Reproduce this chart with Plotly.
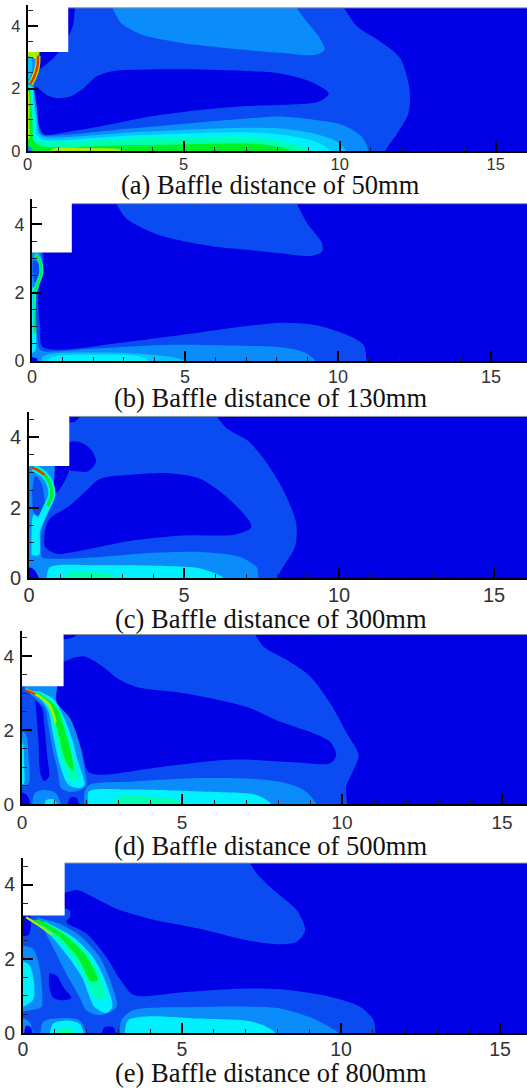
import plotly.graph_objects as go

# ---- Contour level colours ----
DARK = "#0000E6"
MID = "#0A4CF2"
LIGHT = "#0A8CFA"
SKY = "#06C4FF"
CYAN = "#00F0FF"
MINT = "#00FFB0"
GREEN = "#00F028"
LIME = "#A8F000"
YELLOW = "#F0E400"
RED = "#E83000"

# ---- Axis ticks and captions ----
x_tick_step = 5
y_tick_step = 2
captions = ["(a) Baffle distance of 50mm", "(b) Baffle distance of 130mm", "(c) Baffle distance of 300mm",
            "(d) Baffle distance of 500mm", "(e) Baffle distance of 800mm"]
tick_font_sizes = [16.5, 18, 20, 19, 19.5]
x_label_standoffs = [-3, -2, -2, 0, -2]

# ---- Panel (a): contour regions (x, y in axis units) ----
a_mid = [(-.5,-.4),(-.5,4.63),(10.05,4.63),(10.13,4.57),(10.56,3.98),(11.3,3.5),(11.94,2.96),(12.24,1.95),(12.2,1.2),(11.84,.56),(11.46,0),(11.4,-.4)]
a_wedge = [(1.2,3.3),(1.3,4.63),(1.49,4.63),(1.49,4.3),(1.44,3.98),(1.2,3.45),(.82,2.97),(.29,2.59),(.3,3.2)]
a_core = [(.24,2.06),(.61,1.79),(.93,1.69),(1.36,1.74),(1.78,2.0),(2.2,2.38),(2.75,2.56),(3.92,2.61),(5.52,2.61),(7.03,2.56),(8.1,2.48),(9.06,2.22),(9.65,1.84),(9.33,1.58),(8.1,1.47),(7.03,1.44),(5.52,1.31),(3.92,1.1),(2.3,.78),(1.04,.57),(.55,.51),(.37,.78),(.18,1.63),(.24,2.06)]
a_patch = [(2.68,4.63),(2.72,4.57),(3.0,4.09),(3.7,3.71),(4.99,3.45),(7.03,3.23),(8.1,3.14),(9.17,3.07),(9.51,3.23),(9.33,3.66),(8.9,4.19),(8.63,4.57),(8.6,4.63)]
a_band = [(10.95,-.4),(10.93,0),(10.7,.46),(10.1,.83),(9.17,1.0),(8.1,1.1),(7.03,1.04),(3.39,.73),(.5,.51),(.4,.6),(.28,1.5),(.2,2.1),(.33,2.6),(.35,3.3),(-.1,3.3),(-.1,-.4)]
a_sky = [(10.25,-.4),(10.2,0),(9.91,.3),(9.17,.56),(8.1,.72),(7.03,.74),(3.39,.6),(.6,.44),(.37,.55),(.3,1.0),(.22,1.6),(.17,2.05),(-.1,2.1),(-.1,-.4)]
a_cyan = [(9.75,-.4),(9.7,0),(9.2,.3),(8.3,.5),(7.03,.6),(3.39,.5),(.5,.36),(.3,.5),(.26,1.0),(.19,1.6),(.14,2.05),(-.1,2.1),(-.1,-.4)]
a_mint = [(9.1,-.4),(9.06,0),(8.63,.19),(7.56,.4),(7.03,.45),(3.39,.41),(.5,.3),(.23,.4),(.2,.8),(.13,1.6),(.1,2.05),(-.1,2.1),(-.1,-.4)]
a_green = [(8.45,-.4),(8.42,0),(7.67,.19),(7.03,.24),(3.39,.19),(.4,.17),(.18,.35),(.16,.8),(.1,1.6),(.05,2.05),(-.1,2.1),(-.1,-.4)]
a_lime = [(.6,-.2),(.8,.06),(2,.09),(3.0,.04),(3.3,-.2)]
a_wall_lime = [(-.1,2.0),(.03,1.9),(.05,.9),(.05,.4),(-.1,.3)]
a_corner = [(-.1,-.2),(-.1,.14),(.1,.12),(.2,-.2)]
a_top_jet = [(-.1,3.3),(.34,3.3),(.31,2.95),(.1,3.0),(-.1,3.05)]
a_gap_cyan = [(-.1,3.0),(.1,3.0),(.15,2.7),(.05,2.3),(-.1,2.3)]
a_arc_x = [.33,.31,.2,.08]
a_arc_y = [3.05,2.7,2.35,2.15]

# ---- Panel (b) ----
b_patch = [(2.72,4.63),(2.76,4.59),(3.08,4.17),(4.17,3.68),(6.02,3.34),(7.03,3.25),(8.12,3.15),(9.1,3.07),(9.48,3.2),(9.48,3.44),(8.99,4.03),(8.66,4.59),(8.63,4.63)]
b_mid = [(10.95,-.4),(10.93,0),(10.84,.46),(10.3,.76),(9.2,1.06),(8.12,1.12),(7.03,1.02),(3.3,.58),(.36,.4),(.27,1.0),(.2,1.8),(.25,2.3),(.34,2.6),(.32,3.3),(-.1,3.3),(-.1,-.4)]
b_light = [(9.3,-.4),(9.26,0),(8.88,.26),(8.12,.4),(7.03,.44),(4.39,.47),(2.2,.37),(.4,.28),(.25,.35),(.15,1.0),(.15,2.1),(.25,2.6),(.25,3.3),(-.1,3.3),(-.1,-.4)]
b_sky = [(5.02,-.3),(4.99,0),(3.85,.19),(2.2,.25),(.36,.13),(.3,-.3)]
b_cyan = [(3.9,-.3),(3.7,.08),(2.2,.18),(.58,.08),(.5,-.3)]
b_wall = [(-.1,2.2),(.1,2.1),(.1,1.2),(.14,.6),(.1,.3),(-.1,.2)]
b_hole = [(.05,2.95),(.2,2.9),(.22,2.5),(.1,2.3),(.03,2.5),(.05,2.95)]
b_corner = [(-.1,-.2),(-.1,.08),(.15,.08),(.2,-.2)]
b_arc_x = [.08,.22,.3,.27,.1]
b_arc_y = [2.0,2.35,2.55,2.9,3.12]
b_wall_x = [.06,.06,.08]
b_wall_y = [2.0,1.3,.8]

# ---- Panel (c) ----
c_mid = [(-.5,-.4),(-.5,4.63),(5.98,4.63),(6.06,4.58),(6.38,4.25),(7.03,3.92),(7.56,3.4),(8.2,2.5),(8.62,1.55),(8.58,.89),(8.2,.32),(8.0,0),(7.95,-.4)]
c_lens = [(1.2,4.63),(1.2,4.45),(1.45,4.43),(1.65,4.59),(1.7,4.63)]
c_blob = [(1.2,3.1),(1.2,3.82),(1.65,3.86),(2.02,3.63),(2.16,3.3),(1.91,3.03),(1.48,3.04),(1.2,3.1)]
c_wedge = [(.75,3.3),(1.35,3.3),(1.15,2.75),(.9,2.42),(.78,2.35)]
c_core = [(.52,1.35),(.68,1.69),(1.32,2.06),(1.86,2.49),(2.29,2.82),(3.37,2.94),(4.44,2.98),(5.52,2.82),(6.38,2.3),(7.13,1.59),(7.16,1.42),(6.6,1.23),(4.98,1.21),(3.37,1.07),(1.75,.79),(.89,.69),(.52,.88),(.52,1.35)]
c_band = [(7.42,-.4),(7.4,0),(7.34,.31),(6.8,.6),(5.52,.74),(3.9,.71),(2.29,.6),(.68,.55),(.42,.6),(.4,1.3),(.72,2.2),(.8,2.7),(.78,3.3),(-.1,3.3),(-.1,-.4)]
c_bottom = [(6.3,-.3),(6.27,0),(5.52,.27),(4.44,.34),(2.29,.36),(.68,.31),(.57,.03),(.55,-.3)]
c_bottom_mint = [(2.8,-.3),(2.72,.08),(1.97,.17),(1.2,.12),(1.1,-.3)]
c_corner = [(-.1,-.2),(-.1,.3),(.15,.25),(.42,-.2)]
c_wall_cyan = [(.08,.65),(.33,.65),(.35,1.3),(.42,1.6),(.15,1.8),(.08,1.2)]
c_loop = [(.12,1.9),(.3,1.75),(.5,2.0),(.4,2.7),(.2,2.9),(.1,2.4)]
c_halo_x = [.14,.46,.68,.73,.52,.3]
c_halo_y = [3.13,2.96,2.68,2.35,1.92,1.5]
c_green_x = [.14,.46,.68,.73,.6]
c_green_y = [3.13,2.96,2.68,2.35,2.05]
c_red_x = [.1,.3,.5]
c_red_y = [3.13,3.06,2.93]

# ---- Panel (d) ----
d_mid = [(-.5,-.4),(-.5,4.63),(7.2,4.63),(7.29,4.57),(7.55,4.25),(8.28,3.89),(9.01,3.44),(9.63,2.72),(10.15,1.91),(10.52,1.32),(10.36,.92),(10.13,.47),(10.16,0),(10.16,-.4)]
d_core = [(1.2,3.3),(1.2,3.77),(1.91,3.99),(2.43,3.77),(3.05,3.36),(3.68,3.14),(5.03,3.0),(7.03,2.62),(8.07,2.22),(9.11,1.91),(9.63,1.68),(9.82,1.32),(9.63,1.1),(8.59,1.12),(6.6,1.2),(4.51,1.02),(2.43,.79),(2.06,.88),(1.85,1.51),(1.54,2.05),(1.13,2.46),(1.07,3.3)]
d_lens = [(1.2,4.63),(1.2,4.44),(1.4,4.46),(1.65,4.53),(1.75,4.63)]
d_stripe = [(.42,2.8),(.62,2.6),(.7,2.1),(.8,1.2),(.85,.75),(.7,.62),(.58,.8),(.52,1.6)]
d_band = [(9.22,-.4),(9.2,0),(8.8,.38),(8.07,.6),(7.03,.69),(5.55,.7),(3.47,.61),(2.11,.52),(1.95,.3),(2.0,-.4)]
d_jet_light = [(.08,3.14),(.34,2.91),(.71,2.59),(.82,2.14),(.95,1.51),(1.12,.88),(1.22,.43),(1.54,.32),(2.0,.48),(1.95,.97),(1.78,1.69),(1.5,2.32),(1.07,2.77),(1.07,3.3),(.1,3.3)]
d_jet_cyan = [(.19,3.05),(.55,2.85),(.81,2.55),(.97,1.87),(1.18,1.06),(1.45,.52),(1.8,.43),(1.95,.52),(1.75,1.15),(1.55,1.8),(1.25,2.45),(1.0,2.82),(.55,3.05)]
d_jet_mint = [(.19,3.05),(.55,2.9),(.86,2.55),(1.05,1.87),(1.3,1.06),(1.6,.6),(1.75,.7),(1.6,1.24),(1.45,1.8),(1.2,2.45),(.97,2.76),(.55,3.0)]
d_jet_green = [(.24,3.05),(.6,2.92),(.92,2.6),(1.13,1.9),(1.37,1.15),(1.6,.9),(1.55,1.35),(1.37,1.9),(1.12,2.55),(.86,2.79),(.55,3.0)]
d_jet_x = [.1,.5,.85,1.05]
d_jet_y = [3.1,2.93,2.68,2.2]
d_red_x = [.1,.42]
d_red_y = [3.08,2.97]
d_wall_light = [(-.1,2.0),(.12,1.9),(.2,1.3),(.2,.55),(-.1,.45)]
d_wall_cyan = [(-.1,1.9),(.04,1.6),(.07,1.0),(.06,.55),(-.1,.5)]
d_dome = [(.3,-.3),(.4,.3),(.7,.38),(1.05,.3),(1.32,-.3)]
d_dome_cyan = [(.7,-.2),(.75,.1),(1.0,.12),(1.2,-.2)]
d_dark_left = [(-.1,-.2),(-.1,.3),(.15,.25),(.3,-.2)]
d_dark_right = [(1.4,-.3),(1.5,.17),(1.7,.17),(1.85,-.3)]
d_bottom = [(2.03,-.3),(2.06,0),(2.09,.34),(3.47,.39),(5.55,.34),(7.03,.29),(7.34,.24),(7.79,0),(7.85,-.3)]
d_bottom_mint = [(2.8,-.3),(2.95,.16),(3.99,.2),(4.93,.07),(5.0,-.3)]

# ---- Panel (e) ----
e_mid = [(-.5,-.4),(-.5,3.3),(1.47,3.3),(1.47,3.13),(1.36,2.99),(1.99,2.68),(2.62,2.05),(3.04,1.46),(3.41,1.06),(3.67,.99),(5.03,1.1),(7.04,1.2),(8.09,1.18),(9.66,.98),(10.6,.71),(11.02,.35),(11.08,0),(11.08,-.4)]
e_top = [(1.2,4.63),(1.2,3.8),(1.73,3.85),(2.31,3.62),(2.94,3.35),(3.98,3.08),(5.56,2.81),(7.04,2.5),(8.09,2.39),(8.61,2.46),(8.87,2.77),(8.61,3.31),(7.88,3.85),(7.35,4.3),(7.14,4.57),(7.1,4.63)]
e_wall_dark = [(-.1,3.2),(.2,3.2),(.25,2.9),(.18,2.65),(-.1,2.6)]
e_tri = [(.84,1.6),(1.05,1.55),(1.3,1.2),(1.52,.95),(1.3,.88),(.95,.95),(.84,1.2),(.84,1.6)]
e_jet_light = [(.42,3.13),(.58,2.9),(.94,2.32),(1.36,1.6),(1.78,.97),(1.99,.61),(2.41,.48),(2.94,.7),(2.78,1.33),(2.41,2.05),(1.78,2.63),(1.15,2.95)]
e_jet_cyan = [(.5,2.98),(1.2,2.3),(1.85,1.51),(2.25,.7),(2.62,.54),(2.81,.7),(2.62,1.33),(2.2,2.05),(1.57,2.59),(.84,2.93)]
e_jet_mint = [(.42,3.0),(1.15,2.45),(1.8,1.75),(2.25,.98),(2.55,.88),(2.45,1.5),(1.95,2.2),(1.3,2.7),(.7,3.0)]
e_jet_green = [(.31,3.05),(1.15,2.58),(1.75,2.0),(2.12,1.4),(2.35,1.42),(1.95,2.12),(1.3,2.65),(.5,3.05)]
e_jet_x = [.1,.5,.9]
e_jet_y = [3.12,2.9,2.65]
e_wall_light = [(-.1,2.36),(.31,2.27),(.52,1.78),(.61,.88),(.58,.7),(-.1,.57)]
e_wall_cyan = [(-.1,1.96),(.21,1.82),(.35,1.33),(.31,.88),(-.1,.66)]
e_lobe = [(.55,-.3),(.63,.3),(1.15,.4),(1.78,.34),(2.1,-.3)]
e_lobe_cyan = [(.8,-.3),(.94,.25),(1.36,.34),(1.78,.25),(2.0,-.3)]
e_lobe_mint = [(1.05,-.2),(1.15,.12),(1.5,.14),(1.7,-.2)]
e_corner = [(-.1,-.2),(-.1,.4),(.2,.3),(.35,-.2)]
e_corner_dark = [(.02,-.2),(.1,.2),(.25,.15),(.3,-.2)]
e_third_dark = [(2.45,-.2),(2.55,.15),(2.85,.15),(2.95,-.2)]
e_band = [(3.02,-.3),(3.04,0),(3.09,.34),(3.46,.61),(5.56,.7),(7.04,.71),(8.09,.66),(9.13,.39),(9.71,.12),(9.92,0),(9.95,-.3)]
e_bottom = [(3.18,-.3),(3.2,0),(3.3,.34),(3.98,.45),(5.56,.39),(7.04,.33),(7.56,.21),(7.93,0),(7.97,-.3)]

# (zero pixel x, px per x unit, zero pixel y, px per y unit, baffle right, baffle bottom, data top, axis-line top pixel, caption centre pixel)
panel_geometry = [
    (27.7, 31.2, 151, 31.25, 1.30, 3.17, 4.58, 5, 185),
    (32.0, 30.6, 361, 34.2, 1.30, 3.17, 4.60, 199, 398),
    (29.0, 31.0, 578, 35.2, 1.30, 3.18, 4.59, 412, 619),
    (22.0, 32.0, 804, 37.0, 1.30, 3.18, 4.58, 631, 846),
    (23.0, 31.8, 1033, 37.1, 1.31, 3.17, 4.58, 858, 1073),
]

panels = [
    dict(bg=DARK, polys=[(MID,a_mid),(DARK,a_wedge),(DARK,a_core),(LIGHT,a_patch),(LIGHT,a_band),(SKY,a_sky),(CYAN,a_cyan),
                         (MINT,a_mint),(GREEN,a_green),(LIME,a_lime),(LIME,a_wall_lime),(LIGHT,a_corner),(LIME,a_top_jet),(SKY,a_gap_cyan)],
         lines=[(a_arc_x,a_arc_y,LIME,5),(a_arc_x,a_arc_y,RED,2.5)]),
    dict(bg=DARK, polys=[(MID,b_patch),(MID,b_mid),(LIGHT,b_light),(SKY,b_sky),(CYAN,b_cyan),(CYAN,b_wall),(MID,b_hole),(DARK,b_corner)],
         lines=[(b_arc_x,b_arc_y,CYAN,4),(b_arc_x,b_arc_y,GREEN,2.2),(b_wall_x,b_wall_y,GREEN,1.5)]),
    dict(bg=DARK, polys=[(MID,c_mid),(DARK,c_lens),(DARK,c_blob),(DARK,c_wedge),(DARK,c_core),(LIGHT,c_band),(CYAN,c_bottom),(MINT,c_bottom_mint),
                         (DARK,c_corner),(CYAN,c_wall_cyan),(MID,c_loop)],
         lines=[(c_halo_x,c_halo_y,CYAN,7),(c_green_x,c_green_y,GREEN,3.5),(c_red_x,c_red_y,RED,2)]),
    dict(bg=DARK, polys=[(MID,d_mid),(DARK,d_core),(DARK,d_lens),(DARK,d_stripe),(LIGHT,d_band),(LIGHT,d_jet_light),(CYAN,d_jet_cyan),(MINT,d_jet_mint),(GREEN,d_jet_green),
                         (LIGHT,d_wall_light),(CYAN,d_wall_cyan),(LIGHT,d_dome),(CYAN,d_dome_cyan),(DARK,d_dark_left),(DARK,d_dark_right),(CYAN,d_bottom),(MINT,d_bottom_mint)],
         lines=[(d_jet_x,d_jet_y,LIME,2.5),(d_red_x,d_red_y,RED,2)]),
    dict(bg=DARK, polys=[(MID,e_mid),(MID,e_top),(DARK,e_wall_dark),(DARK,e_tri),(LIGHT,e_jet_light),(CYAN,e_jet_cyan),(MINT,e_jet_mint),(GREEN,e_jet_green),
                         (LIGHT,e_wall_light),(CYAN,e_wall_cyan),(LIGHT,e_lobe),(CYAN,e_lobe_cyan),(MINT,e_lobe_mint),(LIGHT,e_corner),(DARK,e_corner_dark),
                         (DARK,e_third_dark),(LIGHT,e_band),(CYAN,e_bottom)],
         lines=[(e_jet_x,e_jet_y,LIME,2.2)]),
]

W, H = 527, 1089
fig = go.Figure()
layout = {}
for i, (pan, geo) in enumerate(zip(panels, panel_geometry), start=1):
    x0, kx, y0, ky, bx, by, top, line_top, cap_y = geo
    xmax = (W - x0) / kx
    ymax = (y0 - line_top) / ky
    suffix = "" if i == 1 else str(i)
    xa, ya = f"x{suffix}", f"y{suffix}"
    common = dict(showgrid=False, zeroline=False, showline=True, linecolor="#000", linewidth=2, automargin=False,
                  ticks="inside", tickcolor="#000", tickwidth=2, ticklen=10, tick0=0,
                  tickfont=dict(family="Liberation Sans", size=tick_font_sizes[i - 1], color="#333"))
    layout[f"xaxis{suffix}"] = dict(common, domain=[x0 / W, 1], range=[0, xmax], anchor=ya, dtick=x_tick_step,
                                    ticklabelstandoff=x_label_standoffs[i - 1],
                                    minor=dict(dtick=1, tick0=0, ticks="inside", ticklen=4, tickwidth=1, tickcolor="#223"))
    layout[f"yaxis{suffix}"] = dict(common, domain=[1 - y0 / H, 1 - line_top / H], range=[0, ymax], anchor=xa, dtick=y_tick_step,
                                    ticklabelstandoff=2,
                                    minor=dict(dtick=.5, tick0=0, ticks="inside", ticklen=5, tickwidth=1, tickcolor="#223"))
    # the flow field background up to the data top
    fig.add_trace(go.Scatter(x=[0, xmax, xmax, 0, 0], y=[-1, -1, top, top, -1], xaxis=xa, yaxis=ya, mode="lines",
                             line=dict(width=0), fill="toself", fillcolor=pan["bg"], hoverinfo="skip", showlegend=False))
    for color, pts in pan["polys"]:
        fig.add_trace(go.Scatter(x=[p[0] for p in pts], y=[p[1] for p in pts], xaxis=xa, yaxis=ya, mode="lines",
                                 line=dict(width=0, shape="spline", smoothing=0.8), fill="toself", fillcolor=color,
                                 hoverinfo="skip", showlegend=False))
    for xs, ys, color, width in pan["lines"]:
        fig.add_trace(go.Scatter(x=xs, y=ys, xaxis=xa, yaxis=ya, mode="lines",
                                 line=dict(width=width, color=color, shape="spline"), hoverinfo="skip", showlegend=False))
    # white baffle and blank strip above the field
    fig.add_trace(go.Scatter(x=[-1, bx, bx, xmax + 1, xmax + 1, -1, -1], y=[by, by, top, top, 6, 6, by], xaxis=xa, yaxis=ya,
                             mode="lines", line=dict(width=0), fill="toself", fillcolor="#FFFFFF", hoverinfo="skip", showlegend=False))
    fig.add_trace(go.Scatter(x=[bx, xmax + 1], y=[top, top], xaxis=xa, yaxis=ya, mode="lines",
                             line=dict(width=1, color="#8A8FA8"), hoverinfo="skip", showlegend=False))
    fig.add_annotation(text=captions[i - 1], xref="paper", yref="paper", x=270.5 / W, y=1 - cap_y / H,
                       xanchor="center", yanchor="middle", showarrow=False,
                       font=dict(family="Liberation Serif", size=26.5, color="#111"))

fig.update_layout(width=W, height=H, autosize=False, margin=dict(l=0, r=0, t=0, b=0, autoexpand=False),
                  paper_bgcolor="#FFFFFF", plot_bgcolor="#FFFFFF", showlegend=False, **layout)
fig.write_html("out.html", config=dict(displayModeBar=False),
               post_script="document.documentElement.style.overflow='hidden';document.body.style.margin='0';document.body.style.overflow='hidden';")
